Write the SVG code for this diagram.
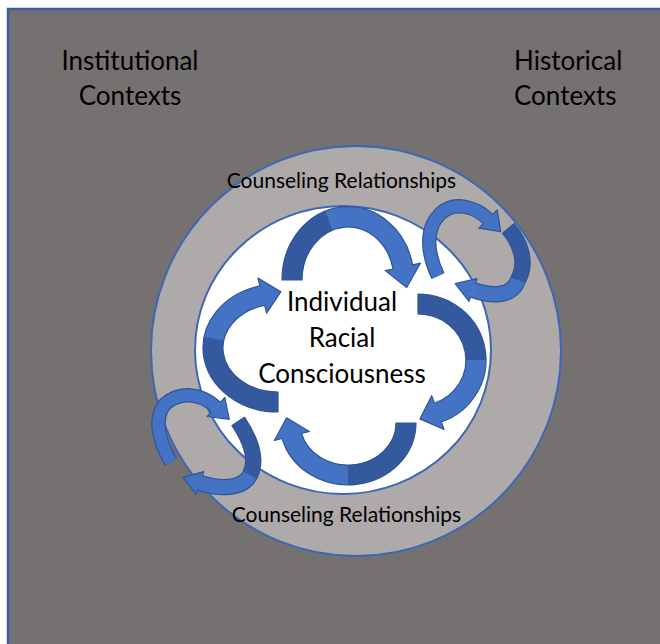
<svg xmlns="http://www.w3.org/2000/svg" width="660" height="644" viewBox="0 0 660 644">
  <defs>
    <style>
      .lbl { font-family: Lato, "Liberation Sans", sans-serif; fill: #000; }
      .ctx { font-size: 26px; }
      .core { font-size: 26px; text-anchor: middle; }
      .rel { font-size: 21px; }
      .fill-l { fill: #4472C4; stroke: none; }
      .fill-d { fill: #35599E; stroke: none; }
      .outline { fill: none; stroke: #2F5597; stroke-width: 1.2; stroke-linejoin: round; }
      .head { fill: #4472C4; stroke: #2F5597; stroke-width: 1.2; stroke-linejoin: round; }
      .edge { fill: none; stroke: #2F5597; stroke-linecap: butt; }
      .band-l { fill: none; stroke: #4472C4; stroke-linecap: butt; }
      .band-d { fill: none; stroke: #35599E; stroke-linecap: butt; }
    </style>
  </defs>

  <!-- outer context field -->
  <g id="contexts">
    <rect x="8" y="9" width="700" height="700" fill="#767171" stroke="#3A5FA8" stroke-width="2.5"/>
    <text class="lbl ctx" x="130" y="70" text-anchor="middle">Institutional</text>
    <text class="lbl ctx" x="130" y="105" text-anchor="middle">Contexts</text>
    <text class="lbl ctx" x="514" y="70">Historical</text>
    <text class="lbl ctx" x="514" y="105">Contexts</text>
  </g>

  <!-- counseling relationships ring -->
  <g id="counseling-relationships">
    <circle cx="356" cy="351" r="205" fill="#AEAAAA" stroke="#3F67B5" stroke-width="2"/>
    <text class="lbl rel" x="341.5" y="188" text-anchor="middle">Counseling Relationships</text>
    <text class="lbl rel" x="346.5" y="522" text-anchor="middle">Counseling Relationships</text>
  </g>

  <!-- individual racial consciousness core -->
  <g id="individual-racial-consciousness">
    <ellipse cx="343" cy="350" rx="148" ry="144" fill="#FFFFFF" stroke="#3F67B5" stroke-width="2"/>
    <text class="lbl core" x="342" y="311">Individual</text>
    <text class="lbl core" x="342" y="347">Racial</text>
    <text class="lbl core" x="342" y="383">Consciousness</text>
  </g>

  <!-- cycle arrows -->
  <g id="connectors">
    <!-- top arch -->
    <g id="arrow-top">
      <path class="fill-l" d="M282,280 A66,73 0 0 1 412.6,264.8 L420.4,263.2 L406.7,287.5 L385.2,270.6 L393,269 A46,53 0 0 0 302,280 Z"/>
      <path class="fill-d" d="M282,280 A66,73 0 0 1 325.4,211.4 L332.3,230.2 A46,53 0 0 0 302,280 Z"/>
      <path class="outline" d="M282,280 A66,73 0 0 1 412.6,264.8 L420.4,263.2 L406.7,287.5 L385.2,270.6 L393,269 A46,53 0 0 0 302,280 Z"/>
    </g>
    <!-- right arch -->
    <g id="arrow-right">
      <path class="fill-l" d="M418,294 A68,66 0 0 1 441.3,422 L444,429.5 L419.9,418.9 L431.7,395.7 L434.4,403.2 A48,46 0 0 0 418,314 Z"/>
      <path class="fill-d" d="M418,294 A68,66 0 0 1 486,360 L466,360 A48,46 0 0 0 418,314 Z"/>
      <path class="outline" d="M418,294 A68,66 0 0 1 441.3,422 L444,429.5 L419.9,418.9 L431.7,395.7 L434.4,403.2 A48,46 0 0 0 418,314 Z"/>
    </g>
    <!-- bottom arch -->
    <g id="arrow-bottom">
      <path class="fill-l" d="M416,423 A68,62 0 0 1 282.2,438.5 L274.4,440.5 L286.6,417.8 L309.3,431.5 L301.5,433.5 A48,42 0 0 0 396,423 Z"/>
      <path class="fill-d" d="M416,423 A68,62 0 0 1 348,485 L348,465 A48,42 0 0 0 396,423 Z"/>
      <path class="outline" d="M416,423 A68,62 0 0 1 282.2,438.5 L274.4,440.5 L286.6,417.8 L309.3,431.5 L301.5,433.5 A48,42 0 0 0 396,423 Z"/>
    </g>
    <!-- left arch -->
    <g id="arrow-left">
      <path class="fill-l" d="M278,412 A75,64 0 0 1 259.9,285.9 L257.9,278.1 L280.9,291.7 L266.6,313.1 L264.7,305.3 A55,44 0 0 0 278,392 Z"/>
      <path class="fill-d" d="M278,412 A75,64 0 0 1 204.1,336.9 L223.8,340.4 A55,44 0 0 0 278,392 Z"/>
      <path class="outline" d="M278,412 A75,64 0 0 1 259.9,285.9 L257.9,278.1 L280.9,291.7 L266.6,313.1 L264.7,305.3 A55,44 0 0 0 278,392 Z"/>
    </g>

    <!-- upper right exchange loop -->
    <g id="loop-upper-right">
      <path class="edge" stroke-width="14.4" d="M438,276 C428,255 424,230 440,214 C454,200 476,207 488,219"/>
      <path class="band-l" stroke-width="12" d="M438,276 C428,255 424,230 440,214 C454,200 476,207 488,219"/>
      <path class="head" d="M492.2,214.8 L497.2,209.8 L500.7,231.7 L478.8,228.2 L483.8,223.2"/>
      <path class="edge" stroke-width="16.4" d="M508,228 C520,242 528,262 518,280 C512,298 490,296 473,290"/>
      <path class="band-d" stroke-width="14" d="M508,228 C520,242 528,262 518,280"/>
      <path class="band-l" stroke-width="14" d="M518,280 C512,298 490,296 473,290"/>
      <path class="head" d="M475.3,283.4 L477,278.7 L455.1,283.7 L469,301.3 L470.7,296.6"/>
    </g>

    <!-- lower left exchange loop -->
    <g id="loop-lower-left">
      <path class="edge" stroke-width="14.4" d="M171,462 C161,445 152,420 165,404 C180,391 201,393 216,407"/>
      <path class="band-l" stroke-width="12" d="M171,462 C161,445 152,420 165,404 C180,391 201,393 216,407"/>
      <path class="head" d="M220.1,402.6 L224.9,397.5 L229.2,419.3 L207.1,416.5 L211.9,411.4"/>
      <path class="edge" stroke-width="16.4" d="M238,421 C248,436 259,457 250,475 C242,490 218,489 200,483"/>
      <path class="band-d" stroke-width="14" d="M238,421 C248,436 259,457 250,475"/>
      <path class="band-l" stroke-width="14" d="M250,475 C242,490 218,489 200,483"/>
      <path class="head" d="M202.2,476.4 L203.8,471.6 L182.9,477.3 L196.2,494.4 L197.8,489.6"/>
    </g>
  </g>
</svg>
